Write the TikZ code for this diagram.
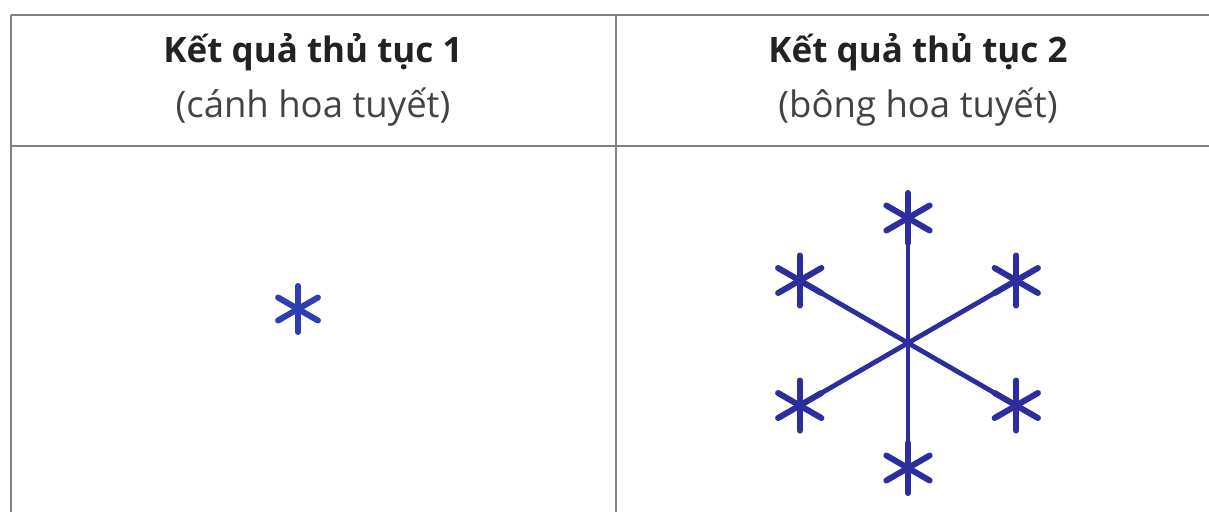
\documentclass[tikz,border=0pt]{standalone}
\usepackage{fontspec}
\setmainfont{Open Sans}
\usetikzlibrary{calc}
\definecolor{rule}{HTML}{808080}
\definecolor{ink}{HTML}{222222}
\definecolor{flake}{HTML}{2B2E9C}
\definecolor{petal}{HTML}{2D3FB0}
\tikzset{
  gridline/.style={draw=rule, line width=2.2pt},
  headtitle/.style={font=\bfseries\fontsize{35}{40}\selectfont, text=ink, inner sep=0pt, anchor=base},
  headsub/.style={font=\fontsize{36.5}{42}\selectfont, text=ink!85, inner sep=0pt, anchor=base},
  arm/.style={draw=flake, line width=4.8pt, line cap=round},
}
% small six-pointed star: #1 = centre, #2 = radius, #3 = colour, #4 = width
\newcommand{\ministar}[4]{%
  \foreach \a in {90,30,150} {
    \draw[draw=#3, line width=#4, line cap=round]
      ($(#1)+(\a:#2)$) -- ($(#1)+(\a+180:#2)$);
  }}
\begin{document}
\begin{tikzpicture}[x=1pt,y=-1pt]
  \useasboundingbox (0,0) rectangle (1209,512);
  % table rules
  \draw[gridline] (11,15) -- (1209,15);
  \draw[gridline] (11,146) -- (1209,146);
  \draw[gridline] (11,15) -- (11,512);
  \draw[gridline] (616,15) -- (616,512);
  % headers
  \node[headtitle] (t1) at (313,62) {Kết quả thủ tục 1};
  \node[headsub]   (s1) at (313,117) {(cánh hoa tuyết)};
  \node[headtitle] (t2) at (918,62) {Kết quả thủ tục 2};
  \node[headsub]   (s2) at (918,117) {(bông hoa tuyết)};
  % procedure 1: a single petal
  \coordinate (p1) at (298,309);
  \ministar{p1}{23}{petal}{6pt}
  % procedure 2: six petals on six arms
  \coordinate (c) at (908,343);
  \foreach \a [count=\i] in {90,30,-30,-90,-150,150} {
    \coordinate (e\i) at ($(c)+(\a:125)$);
  }
  \foreach \i in {1,...,6} {
    \draw[arm] (c) -- (e\i);
    \ministar{e\i}{25}{flake}{6pt}
  }
\end{tikzpicture}
\end{document}
